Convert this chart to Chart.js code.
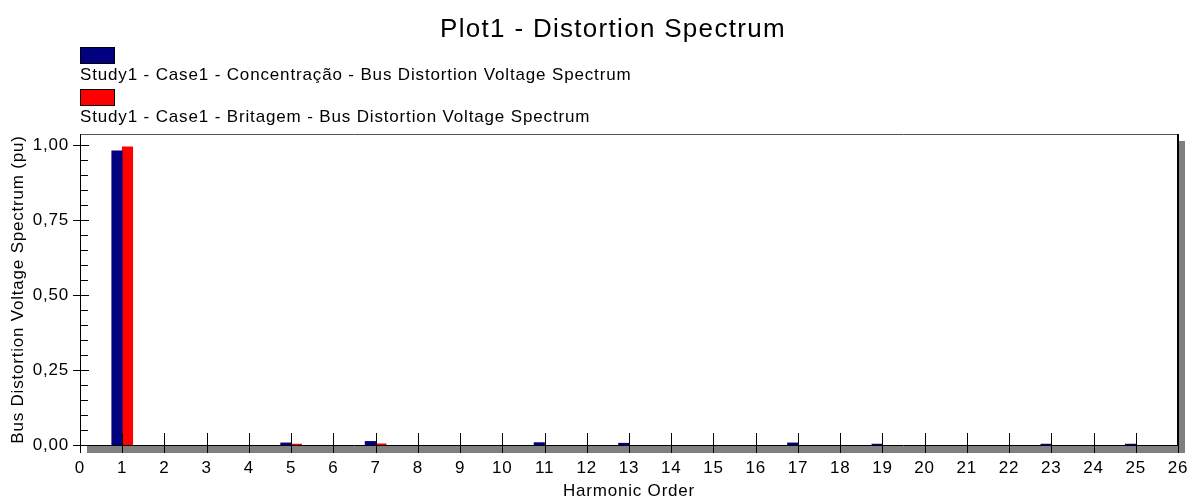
<!DOCTYPE html>
<html>
<head>
<meta charset="utf-8">
<script src="https://cdn.jsdelivr.net/npm/chart.js@4.4.1/dist/chart.umd.min.js"></script>
<style>
  html, body { margin: 0; padding: 0; background: #fff; }
  #wrap { width: 1193px; height: 501px; }
</style>
</head>
<body>
<div id="wrap"><canvas id="spectrum"></canvas></div>
<script>
// harmonic orders that carry a value
var harmonics = [1, 5, 7, 11, 13, 17, 19, 23, 25];
// Study1 - Case1 - Concentração
var concentracao = [0.981, 0.007, 0.012, 0.008, 0.006, 0.007, 0.003, 0.003, 0.003];
// Study1 - Case1 - Britagem (nothing visible past the 7th)
var britagem = [0.994, 0.003, 0.004, null, null, null, null, null, null];
var yTickLabels = [0, 0.25, 0.5, 0.75, 1.0];
var seriesNames = [
    'Study1 - Case1 - Concentração - Bus Distortion Voltage Spectrum',
    'Study1 - Case1 - Britagem - Bus Distortion Voltage Spectrum'
];
var seriesColors = ['#000080', '#ff0000'];

var FONT = "'Liberation Sans', Arial, sans-serif";

function toPoints(values) {
    return harmonics.map(function (h, i) { return { x: h, y: values[i] }; });
}

// ------------------------------------------------------- //
// frame, shadow, ticks, title and legend
// ------------------------------------------------------ //
var framePlugin = {
    id: 'frame',
    beforeDraw: function (chart) {
        // the original renders its text a bit wider than Arial
        chart.ctx.letterSpacing = '0.8px';
    },
    beforeDatasetsDraw: function (chart) {
        var ctx = chart.ctx, a = chart.chartArea;
        ctx.save();
        ctx.fillStyle = '#808080';
        ctx.fillRect(a.right + 1, a.top + 7, 6, a.bottom - a.top);
        ctx.fillRect(a.left + 7, a.bottom + 1, a.right - a.left, 7);
        ctx.restore();
    },
    afterDatasetsDraw: function (chart) {
        var ctx = chart.ctx, a = chart.chartArea;
        var x = chart.scales.x, y = chart.scales.y;
        ctx.save();
        ctx.lineWidth = 1;
        // top border
        ctx.strokeStyle = '#555555';
        ctx.beginPath();
        ctx.moveTo(a.left, a.top + 0.5);
        ctx.lineTo(a.right, a.top + 0.5);
        ctx.stroke();
        // right border
        ctx.strokeStyle = '#000';
        ctx.lineWidth = 2;
        ctx.beginPath();
        ctx.moveTo(a.right, a.top);
        ctx.lineTo(a.right, a.bottom);
        ctx.stroke();
        ctx.lineWidth = 1;
        // axes
        ctx.beginPath();
        ctx.moveTo(a.left + 0.5, a.top);
        ctx.lineTo(a.left + 0.5, a.bottom);
        ctx.moveTo(a.left, a.bottom + 0.5);
        ctx.lineTo(a.right, a.bottom + 0.5);
        // y ticks, minor every 0.05
        for (var k = 0; k <= 20; k++) {
            var py = Math.round(y.getPixelForValue(k * 0.05)) + 0.5;
            if (k % 5 === 0) {
                ctx.moveTo(a.left - 7, py);
                ctx.lineTo(a.left + 9, py);
            } else {
                ctx.moveTo(a.left, py);
                ctx.lineTo(a.left + 8, py);
            }
        }
        // x ticks
        for (var h = 0; h <= 26; h++) {
            var px = Math.round(x.getPixelForValue(h)) + 0.5;
            ctx.moveTo(px, a.bottom - 12);
            ctx.lineTo(px, a.bottom + 8);
        }
        ctx.stroke();

        // title
        ctx.fillStyle = '#000';
        ctx.font = '26px ' + FONT;
        ctx.letterSpacing = '1.3px';
        ctx.textAlign = 'center';
        ctx.textBaseline = 'alphabetic';
        ctx.fillText('Plot1 - Distortion Spectrum', 613, 37);

        // legend: swatch above its text
        ctx.textAlign = 'left';
        ctx.font = '17px ' + FONT;
        ctx.letterSpacing = '0.85px';
        for (var i = 0; i < seriesNames.length; i++) {
            var top = 47 + i * 42;
            ctx.fillStyle = seriesColors[i];
            ctx.fillRect(80, top, 35, 17);
            ctx.strokeStyle = '#000';
            ctx.strokeRect(80.5, top + 0.5, 34, 16);
            ctx.fillStyle = '#000';
            ctx.fillText(seriesNames[i], 80, 80 + i * 42);
        }
        ctx.restore();
    }
};

var ctx = document.getElementById('spectrum').getContext('2d');
var spectrumChart = new Chart(ctx, {
    type: 'bar',
    data: {
        datasets: [{
            label: seriesNames[0],
            data: toPoints(concentracao),
            backgroundColor: seriesColors[0],
            barThickness: 10.5
        },
        {
            label: seriesNames[1],
            data: toPoints(britagem),
            backgroundColor: seriesColors[1],
            barThickness: 10.5
        }]
    },
    plugins: [framePlugin],
    options: {
        responsive: true,
        maintainAspectRatio: false,
        animation: false,
        layout: { padding: { top: 134, right: 15, left: 0, bottom: 0 } },
        plugins: {
            legend: { display: false },
            title: { display: false },
            tooltip: { enabled: false }
        },
        scales: {
            x: {
                type: 'linear',
                offset: false,
                min: 0,
                max: 26,
                grid: { display: false, offset: false },
                border: { display: false },
                ticks: {
                    stepSize: 1,
                    autoSkip: false,
                    maxRotation: 0,
                    padding: 5,
                    color: '#000',
                    font: { family: FONT, size: 17 }
                },
                title: {
                    display: true,
                    text: 'Harmonic Order',
                    color: '#000',
                    padding: 0,
                    font: { family: FONT, size: 17, lineHeight: 1.1 }
                },
                afterFit: function (scale) {
                    scale.height = 56;
                    scale.paddingLeft = 0;
                    scale.paddingRight = 0;
                }
            },
            y: {
                min: 0,
                max: 1.0367,
                grid: { display: false },
                border: { display: false },
                afterBuildTicks: function (scale) {
                    scale.ticks = yTickLabels.map(function (v) { return { value: v }; });
                },
                ticks: {
                    padding: 3,
                    color: '#000',
                    font: { family: FONT, size: 17 },
                    callback: function (v) { return v.toFixed(2).replace('.', ','); }
                },
                title: {
                    display: true,
                    text: 'Bus Distortion Voltage Spectrum (pu)',
                    color: '#000',
                    padding: { top: 8, bottom: 0 },
                    font: { family: FONT, size: 17 }
                },
                afterFit: function (scale) {
                    scale.width = 80;
                    scale.paddingTop = 0;
                    scale.paddingBottom = 0;
                }
            }
        }
    }
});
</script>
</body>
</html>
